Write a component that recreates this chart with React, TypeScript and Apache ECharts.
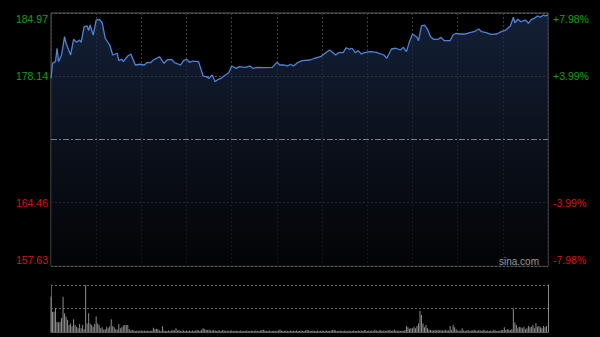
import React, { useEffect, useRef } from "react";
import * as echarts from "echarts";

// Price line (minute from 9:30, HK session 330 trading minutes)
const priceMinutes = [
  0, 1, 3, 4, 5, 7, 9, 10, 13, 15,
  17, 19, 20, 22, 24, 25, 26, 28, 30, 32,
  34, 36, 39, 41, 44, 45, 47, 48, 51, 53,
  56, 59, 62, 64, 66, 68, 71, 72, 75, 77,
  80, 82, 86, 88, 90, 92, 94, 98, 101, 103,
  105, 107, 109, 111, 113, 115, 118, 120, 123, 125,
  129, 132, 134, 137, 141, 147, 150, 152, 155, 157,
  159, 161, 164, 167, 172, 175, 179, 182, 185, 189,
  191, 194, 196, 198, 200, 202, 204, 206, 208, 212,
  216, 221, 223, 226, 229, 232, 234, 236, 238, 240,
  243, 244, 246, 248, 250, 252, 254, 257, 259, 261,
  265, 267, 269, 271, 275, 278, 281, 284, 286, 289,
  292, 296, 299, 302, 305, 307, 308, 310, 312, 315,
  317, 319, 321, 323, 325, 327, 328, 330,
];
const prices = [
  177.91, 179.53, 179.71, 181.16, 179.71, 180.43, 182.41, 181.7, 180.43, 182.13,
  181.8, 182.05, 181.8, 183.49, 183.57, 183.06, 183.67, 182.59, 184.21, 184.29,
  183.92, 182.24, 181.51, 180.43, 180.62, 179.82, 179.97, 179.71, 180.32, 180.54,
  179.35, 179.43, 179.35, 179.64, 179.6, 179.89, 180.14, 180.25, 179.53, 179.89,
  179.97, 179.6, 179.35, 179.82, 179.97, 179.64, 179.78, 179.71, 178.16, 178.09,
  177.91, 178.27, 177.55, 177.81, 177.91, 178.19, 178.52, 179.24, 178.99, 179.17,
  179.1, 179.24, 178.99, 179.1, 179.06, 179.1, 179.64, 179.35, 179.35, 179.24,
  179.43, 179.24, 179.64, 179.82, 179.89, 180.08, 180.25, 180.62, 180.97, 180.43,
  180.68, 180.68, 181.22, 181.05, 181.16, 180.68, 180.9, 180.54, 180.68, 180.79,
  180.72, 180.43, 180.08, 181.08, 181.16, 180.97, 181.26, 180.79, 181.87, 182.7,
  182.34, 181.98, 183.57, 183.67, 183.21, 182.41, 182.13, 182.13, 182.34, 181.98,
  181.98, 182.59, 182.78, 182.7, 182.7, 182.84, 182.95, 183.24, 182.95, 182.84,
  182.67, 182.7, 182.95, 183.13, 183.57, 184.51, 183.92, 184.29, 184.03, 184.21,
  183.86, 184.29, 184.4, 184.65, 184.51, 184.75, 184.65, 184.75,
];

// Volume per minute (relative units), 11 half-hour blocks of 30
const volumes = [
  75, 43, 43, 50, 22, 20, 22, 30, 75, 40, 33, 26, 15, 18, 12, 27, 15, 11, 8, 17, 8, 15, 6, 100, 18, 40, 18, 15, 11, 17,
  33, 18, 15, 8, 10, 5, 6, 11, 8, 12, 27, 13, 10, 6, 5, 17, 8, 10, 14, 15, 15, 15, 6, 3, 4, 3, 2, 3, 2, 3,
  3, 2, 3, 2, 3, 2, 2, 3, 9, 6, 7, 6, 3, 2, 12, 3, 2, 2, 3, 2, 3, 4, 3, 8, 3, 4, 2, 3, 3, 2,
  3, 2, 3, 2, 3, 2, 3, 4, 3, 2, 5, 8, 6, 5, 4, 5, 3, 3, 4, 3, 2, 3, 3, 2, 4, 3, 2, 3, 2, 3,
  3, 2, 2, 3, 2, 2, 3, 2, 2, 2, 3, 2, 2, 3, 2, 2, 3, 2, 2, 3, 4, 5, 3, 2, 2, 3, 2, 2, 3, 2,
  2, 3, 5, 3, 2, 2, 3, 2, 2, 3, 2, 2, 2, 3, 2, 2, 3, 2, 2, 3, 5, 3, 2, 2, 3, 2, 2, 3, 2, 2,
  3, 2, 2, 3, 2, 2, 3, 4, 5, 3, 2, 2, 3, 2, 2, 3, 2, 2, 3, 2, 2, 3, 2, 2, 3, 2, 3, 2, 4, 3,
  2, 3, 2, 3, 2, 5, 3, 2, 3, 4, 2, 3, 2, 3, 3, 4, 2, 3, 5, 3, 2, 3, 2, 3, 2, 4, 13, 10, 7, 8,
  8, 11, 8, 13, 18, 45, 36, 18, 10, 15, 8, 5, 4, 3, 3, 4, 3, 5, 3, 4, 3, 3, 4, 3, 3, 13, 4, 15, 10, 6,
  3, 2, 3, 8, 3, 2, 3, 4, 2, 3, 3, 5, 3, 2, 4, 3, 2, 5, 3, 2, 3, 2, 3, 2, 5, 3, 2, 2, 3, 4,
  4, 10, 4, 6, 5, 4, 6, 50, 20, 15, 8, 11, 10, 8, 11, 6, 8, 13, 10, 11, 15, 8, 19, 11, 13, 10, 8, 13, 10, 13,
];

const prevClose = 171.3;
const priceMin = 157.63;
const priceMax = 184.97;
const tickValues = [157.63, 164.46, 171.3, 178.14, 184.97];
const leftLabels = ["157.63", "164.46", "", "178.14", "184.97"];
const rightLabels = ["-7.98%", "-3.99%", "", "+3.99%", "+7.98%"];

const GREEN = "#13a313";
const RED = "#d81414";
const FONT = "Liberation Sans, Arial, sans-serif";
const FS = 10.5;
const BORDER = "#5c5c5c";

function tickIndex(v: number) {
  return tickValues.findIndex((t) => Math.abs(t - v) < 0.01);
}

function richStyles() {
  return {
    g: { color: GREEN, fontSize: FS, fontFamily: FONT },
    r: { color: RED, fontSize: FS, fontFamily: FONT },
    gt: { color: GREEN, fontSize: FS, fontFamily: FONT, padding: [12, 0, 0, 0] },
    rb: { color: RED, fontSize: FS, fontFamily: FONT, padding: [0, 0, 12, 0] },
  };
}

function labelFormatter(labels: string[]) {
  return (v: number) => {
    const i = tickIndex(v);
    if (i < 0 || !labels[i]) return "";
    if (i === 0) return `{rb|${labels[i]}}`;
    if (i === tickValues.length - 1) return `{gt|${labels[i]}}`;
    return v > prevClose ? `{g|${labels[i]}}` : `{r|${labels[i]}}`;
  };
}

export default function App() {
  const ref = useRef<HTMLDivElement>(null);
  useEffect(() => {
    if (!ref.current) return;
    const chart = echarts.init(ref.current, undefined, { renderer: "svg" });
    const priceData = priceMinutes.map((m, i) => [m, prices[i]]);
    const volData = volumes.map((v, i) => [i, v]);
    const interval = (priceMax - priceMin) / 4;
    chart.setOption({
      animation: false,
      backgroundColor: "#000000",
      textStyle: { fontFamily: FONT },
      grid: [
        { left: 51, top: 13, width: 497, height: 253, show: true, borderColor: BORDER, borderWidth: 1, backgroundColor: "transparent" },
        { left: 51, top: 285, width: 497, height: 47, show: false },
      ],
      xAxis: [
        {
          type: "value", gridIndex: 0, min: 0, max: 330, interval: 30,
          axisLine: { show: false }, axisTick: { show: false }, axisLabel: { show: false },
          splitLine: { show: true, lineStyle: { color: "#3e3e3e", type: [2, 2], width: 1 } },
        },
        {
          type: "value", gridIndex: 1, min: 0, max: 330, interval: 30,
          axisLine: { show: true, onZero: false, lineStyle: { color: BORDER, width: 1 } },
          axisTick: { show: false }, axisLabel: { show: false },
          splitLine: { show: false },
        },
      ],
      yAxis: [
        {
          type: "value", gridIndex: 0, position: "left", min: priceMin, max: priceMax, interval,
          axisLine: { show: false }, axisTick: { show: false },
          axisLabel: { show: true, margin: 3, formatter: labelFormatter(leftLabels), rich: richStyles() },
          splitLine: { show: true, lineStyle: { color: "#555a60", type: [2, 2], width: 1 } },
        },
        {
          type: "value", gridIndex: 0, position: "right", min: priceMin, max: priceMax, interval,
          axisLine: { show: false }, axisTick: { show: false },
          axisLabel: { show: true, margin: 5, formatter: labelFormatter(rightLabels), rich: richStyles() },
          splitLine: { show: false },
        },
        {
          type: "value", gridIndex: 1, position: "left", min: 0, max: 100, interval: 50,
          axisLine: { show: true, onZero: false, lineStyle: { color: BORDER, width: 1 } },
          axisTick: { show: false }, axisLabel: { show: false },
          splitLine: { show: true, lineStyle: { color: "#6a6a6a", type: [2, 2], width: 1 } },
        },
        {
          type: "value", gridIndex: 1, position: "right", min: 0, max: 100, interval: 50,
          axisLine: { show: true, onZero: false, lineStyle: { color: "#8a8a8a", width: 1 } },
          axisTick: { show: false }, axisLabel: { show: false },
          splitLine: { show: false },
        },
      ],
      series: [
        {
          type: "line",
          xAxisIndex: 0,
          yAxisIndex: 0,
          data: priceData,
          showSymbol: false,
          symbol: "none",
          lineStyle: { color: "#4f83d6", width: 1.3 },
          areaStyle: {
            origin: "start",
            color: new echarts.graphic.LinearGradient(0, 0, 0, 1, [
              { offset: 0, color: "#1c2d4e" },
              { offset: 0.5, color: "#101828" },
              { offset: 1, color: "#040508" },
            ]),
          },
          markLine: {
            silent: true,
            symbol: ["none", "none"],
            label: { show: false },
            lineStyle: { color: "#76808c", type: [6, 2, 2, 2], width: 1 },
            data: [{ yAxis: prevClose }],
          },
          z: 3,
        },
        {
          type: "bar",
          xAxisIndex: 1,
          yAxisIndex: 2,
          data: volData,
          barWidth: 1,
          itemStyle: { color: "#8e8e8e" },
        },
      ],
      graphic: [
        {
          type: "text",
          left: 499,
          top: 256,
          style: { text: "sina.com", fill: "#9a9a9a", font: `10px ${FONT}` },
          z: 10,
        },
      ],
    });
    return () => chart.dispose();
  }, []);
  return (
    <div
      ref={ref}
      style={{ position: "fixed", left: 0, top: 0, width: 600, height: 337, background: "#000" }}
    />
  );
}
